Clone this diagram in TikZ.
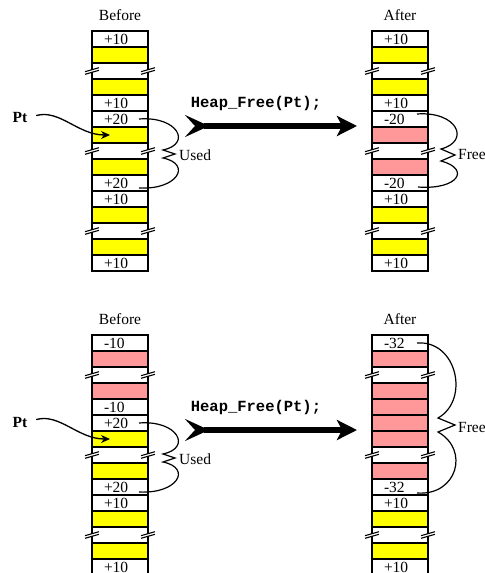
\documentclass[tikz,border=0pt]{standalone}
\usepackage{fontspec}
\setmainfont{Liberation Serif}
\setmonofont{Liberation Mono}
\usetikzlibrary{arrows.meta,calc}

\definecolor{usedyellow}{RGB}{255,255,0}
\definecolor{freepink}{RGB}{255,153,153}

\tikzset{
  cell/.style={draw, line width=1.8bp, minimum width=56bp, minimum height=16bp, inner sep=0pt, outer sep=0pt},
  numcell/.style={cell, fill=white, text width=32bp, align=left, inner xsep=12bp, text height=10.5bp, text depth=0bp},
  usedcell/.style={cell, fill=usedyellow},
  freecell/.style={cell, fill=freepink},
  gapcell/.style={minimum width=56bp, minimum height=16bp, inner sep=0pt, outer sep=0pt},
  side/.style={line width=1.8bp},
  notch/.style={line width=1.1bp},
  brace/.style={line width=1.2bp},
  pointer/.style={line width=1.3bp, -{Stealth[length=9bp,width=8bp]}},
  bigarrow/.style={line width=6bp, {Stealth[reversed,length=24bp,width=22bp,inset=10bp]}-{Stealth[length=20bp,width=20bp,inset=5bp]}},
}

% broken side lines of a skipped stretch
\newcommand\gapmarks[1]{%
  \draw[side] (#1.north west) -- ([yshift=1.3bp]#1.west);
  \draw[side] ([yshift=-1.3bp]#1.west) -- (#1.south west);
  \draw[side] (#1.north east) -- ([yshift=1.3bp]#1.east);
  \draw[side] ([yshift=-1.3bp]#1.east) -- (#1.south east);
  \draw[notch] ([shift={(-7bp,-0.7bp)}]#1.west) -- ([shift={(7bp,3.3bp)}]#1.west);
  \draw[notch] ([shift={(-7bp,-3.3bp)}]#1.west) -- ([shift={(7bp,0.7bp)}]#1.west);
  \draw[notch] ([shift={(-7bp,-0.7bp)}]#1.east) -- ([shift={(7bp,3.3bp)}]#1.east);
  \draw[notch] ([shift={(-7bp,-3.3bp)}]#1.east) -- ([shift={(7bp,0.7bp)}]#1.east);
}

\begin{document}
\begin{tikzpicture}[x=1bp,y=-1bp,font=\fontsize{15.5bp}{18bp}\selectfont]
\useasboundingbox (0,0) rectangle (485,573);
%%
  % Column: top, before
  \node (tbhead) at (120,15) {Before};
  \node[numcell] (tb1) at (120,39) {+10};
  \node[usedcell] (tb2) at (120,55) {};
  \node[gapcell] (tb3) at (120,71) {};
  \node[usedcell] (tb4) at (120,87) {};
  \node[numcell] (tb5) at (120,103) {+10};
  \node[numcell] (tb6) at (120,119) {+20};
  \node[usedcell] (tb7) at (120,135) {};
  \node[gapcell] (tb8) at (120,151) {};
  \node[usedcell] (tb9) at (120,167) {};
  \node[numcell] (tb10) at (120,183) {+20};
  \node[numcell] (tb11) at (120,199) {+10};
  \node[usedcell] (tb12) at (120,215) {};
  \node[gapcell] (tb13) at (120,231) {};
  \node[usedcell] (tb14) at (120,247) {};
  \node[numcell] (tb15) at (120,263) {+10};
  \gapmarks{tb3}
  \gapmarks{tb8}
  \gapmarks{tb13}
  % Column: top, after
  \node (tahead) at (400,15) {After};
  \node[numcell] (ta1) at (400,39) {+10};
  \node[usedcell] (ta2) at (400,55) {};
  \node[gapcell] (ta3) at (400,71) {};
  \node[usedcell] (ta4) at (400,87) {};
  \node[numcell] (ta5) at (400,103) {+10};
  \node[numcell] (ta6) at (400,119) {-20};
  \node[freecell] (ta7) at (400,135) {};
  \node[gapcell] (ta8) at (400,151) {};
  \node[freecell] (ta9) at (400,167) {};
  \node[numcell] (ta10) at (400,183) {-20};
  \node[numcell] (ta11) at (400,199) {+10};
  \node[usedcell] (ta12) at (400,215) {};
  \node[gapcell] (ta13) at (400,231) {};
  \node[usedcell] (ta14) at (400,247) {};
  \node[numcell] (ta15) at (400,263) {+10};
  \gapmarks{ta3}
  \gapmarks{ta8}
  \gapmarks{ta13}
  % Column: bottom, before
  \node (bbhead) at (120,319) {Before};
  \node[numcell] (bb1) at (120,343) {-10};
  \node[freecell] (bb2) at (120,359) {};
  \node[gapcell] (bb3) at (120,375) {};
  \node[freecell] (bb4) at (120,391) {};
  \node[numcell] (bb5) at (120,407) {-10};
  \node[numcell] (bb6) at (120,423) {+20};
  \node[usedcell] (bb7) at (120,439) {};
  \node[gapcell] (bb8) at (120,455) {};
  \node[usedcell] (bb9) at (120,471) {};
  \node[numcell] (bb10) at (120,487) {+20};
  \node[numcell] (bb11) at (120,503) {+10};
  \node[usedcell] (bb12) at (120,519) {};
  \node[gapcell] (bb13) at (120,535) {};
  \node[usedcell] (bb14) at (120,551) {};
  \node[numcell] (bb15) at (120,567) {+10};
  \gapmarks{bb3}
  \gapmarks{bb8}
  \gapmarks{bb13}
  % Column: bottom, after
  \node (bahead) at (400,319) {After};
  \node[numcell] (ba1) at (400,343) {-32};
  \node[freecell] (ba2) at (400,359) {};
  \node[gapcell] (ba3) at (400,375) {};
  \node[freecell] (ba4) at (400,391) {};
  \node[freecell] (ba5) at (400,407) {};
  \node[freecell] (ba6) at (400,423) {};
  \node[freecell] (ba7) at (400,439) {};
  \node[gapcell] (ba8) at (400,455) {};
  \node[freecell] (ba9) at (400,471) {};
  \node[numcell] (ba10) at (400,487) {-32};
  \node[numcell] (ba11) at (400,503) {+10};
  \node[usedcell] (ba12) at (400,519) {};
  \node[gapcell] (ba13) at (400,535) {};
  \node[usedcell] (ba14) at (400,551) {};
  \node[numcell] (ba15) at (400,567) {+10};
  \gapmarks{ba3}
  \gapmarks{ba8}
  \gapmarks{ba13}
%%
  % Edge: Pt -- tb7
  \node[inner sep=0pt] (pt1) at (20,118) {\bfseries Pt};
  \draw[pointer, shorten <=9bp] (pt1.east) .. controls +(32,-9) and +(-32,0) .. ($(tb7.center)+(-10,0)$);
  % Edge: Pt -- bb7
  \node[inner sep=0pt] (pt2) at (20,422) {\bfseries Pt};
  \draw[pointer, shorten <=9bp] (pt2.east) .. controls +(32,-9) and +(-32,0) .. ($(bb7.center)+(-10,0)$);
  % Edge: before -- after
  \node (call1) at (256,103) {\ttfamily\bfseries Heap\_Free(Pt);};
  \coordinate (go1) at (185,126);
  \coordinate (stop1) at (357,126);
  \draw[bigarrow] (go1) -- (stop1);
  \node (call2) at (256,407) {\ttfamily\bfseries Heap\_Free(Pt);};
  \coordinate (go2) at (185,430);
  \coordinate (stop2) at (357,430);
  \draw[bigarrow] (go2) -- (stop2);
  % Brace: tb6 -- tb10
  \coordinate (usedtip1) at (175,154);
  \draw[brace] ($(tb6.center)+(19,0)$) .. controls +(39,-3) and +(29,-6) .. ($(usedtip1)+(-12,-4)$) -- (usedtip1) -- ($(usedtip1)+(-12,4)$) .. controls +(29,6) and +(39,2) .. ($(tb10.center)+(19,5)$);
  \node[anchor=west, inner sep=0pt] (usedlbl1) at ($(usedtip1)+(4,1)$) {Used};
  % Brace: ta6 -- ta10
  \coordinate (freetip1) at (455,155);
  \draw[brace] ($(ta6.center)+(17,-5)$) .. controls +(40,-3) and +(30,-8) .. ($(freetip1)+(-14,-6)$) -- (freetip1) -- ($(freetip1)+(-14,6)$) .. controls +(30,8) and +(40,3) .. ($(ta10.center)+(18,4)$);
  \node[anchor=west, inner sep=0pt] (freelbl1) at ($(freetip1)+(3,0)$) {Free};
  % Brace: bb6 -- bb10
  \coordinate (usedtip2) at (175,458);
  \draw[brace] ($(bb6.center)+(19,0)$) .. controls +(39,-3) and +(29,-6) .. ($(usedtip2)+(-12,-4)$) -- (usedtip2) -- ($(usedtip2)+(-12,4)$) .. controls +(29,6) and +(39,2) .. ($(bb10.center)+(19,5)$);
  \node[anchor=west, inner sep=0pt] (usedlbl2) at ($(usedtip2)+(4,1)$) {Used};
  % Brace: ba1 -- ba10
  \coordinate (freetip2) at (455,425);
  \draw[brace] ($(ba1.center)+(17,0)$) .. controls +(40,-3) and +(32,-18) .. ($(freetip2)+(-17,-7)$) -- (freetip2) -- ($(freetip2)+(-17,7)$) .. controls +(32,18) and +(40,3) .. ($(ba10.center)+(17,6)$);
  \node[anchor=west, inner sep=0pt] (freelbl2) at ($(freetip2)+(3,2)$) {Free};
%
\end{tikzpicture}
\end{document}
